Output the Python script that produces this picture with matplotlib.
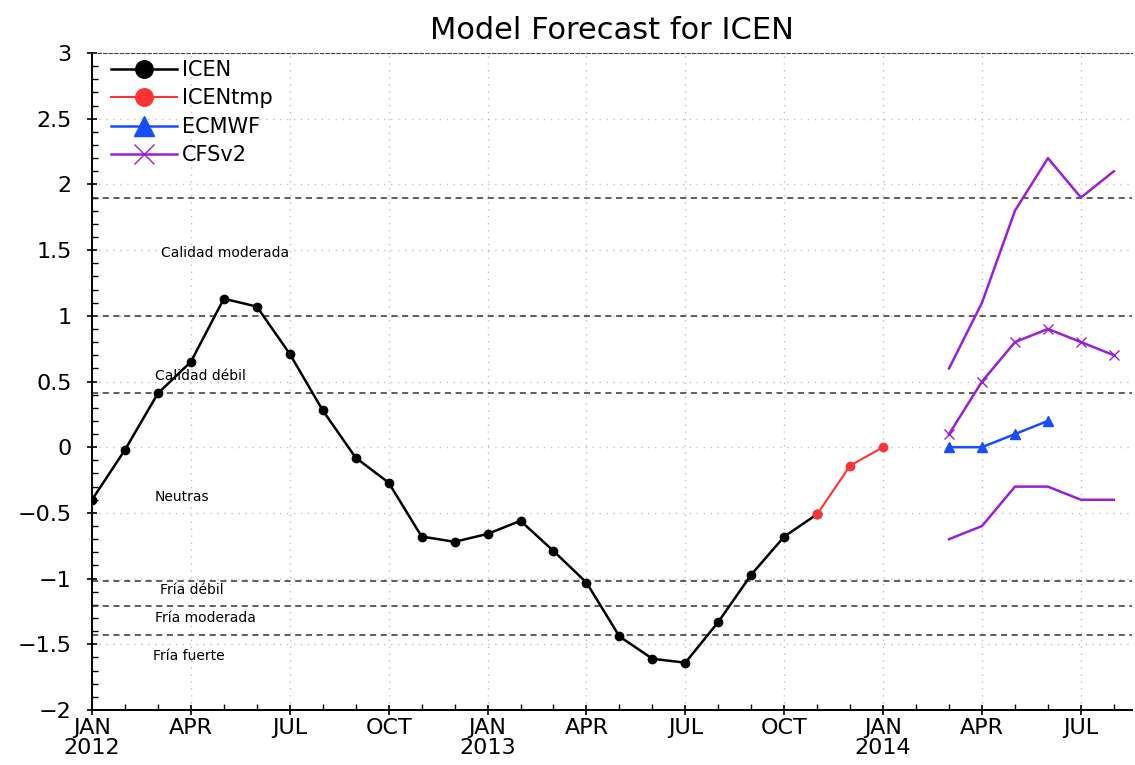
import matplotlib
matplotlib.use("Agg")
import matplotlib.pyplot as plt
from matplotlib.ticker import MultipleLocator

plt.rcParams['font.family'] = ['DejaVu Sans']

# months counted from JAN 2012 = 0
icen_x = list(range(0, 23))
icen_y = [-0.40, -0.02, 0.41, 0.65, 1.13, 1.07, 0.71, 0.28, -0.08, -0.27,
          -0.68, -0.72, -0.66, -0.56, -0.79, -1.03, -1.44, -1.61, -1.64,
          -1.33, -0.97, -0.68, -0.51]

tmp_x = [22, 23, 24]
tmp_y = [-0.51, -0.14, 0.0]

ec_x = [26, 27, 28, 29]
ec_y = [0.0, 0.0, 0.1, 0.2]

cfs_x = [26, 27, 28, 29, 30, 31]
cfs_mean = [0.1, 0.5, 0.8, 0.9, 0.8, 0.7]
cfs_upper = [0.6, 1.1, 1.8, 2.2, 1.9, 2.1]
cfs_lower = [-0.7, -0.6, -0.3, -0.3, -0.4, -0.4]

thresholds = [1.9, 1.0, 0.41, -1.02, -1.21, -1.43]
regions = ["Calidad moderada", "Calidad débil", "Neutras",
           "Fría débil", "Fría moderada", "Fría fuerte"]
region_y = [1.48, 0.54, -0.38, -1.09, -1.30, -1.59]
region_x = [2.1, 1.9, 1.9, 2.05, 1.9, 1.85]

tick_pos = list(range(0, 32, 3))
tick_lab = ["JAN\n2012", "APR", "JUL", "OCT", "JAN\n2013", "APR", "JUL",
            "OCT", "JAN\n2014", "APR", "JUL"]

purple = "#9b1fd6"

fig = plt.figure(figsize=(11.35, 7.65), dpi=100)
ax = fig.add_axes([92 / 1135, 1 - 710 / 765, 1040 / 1135, 657 / 765])

ax.grid(True, which='major', linestyle=(0, (1, 4)), color='#c0c0c0', linewidth=1)
for t in thresholds:
    ax.axhline(t, color='#333333', linestyle=(0, (4, 3)), linewidth=1.1, zorder=2)

ax.plot(icen_x, icen_y, color='black', marker='o', ms=6, lw=1.8, label='ICEN', zorder=5)
ax.plot(tmp_x, tmp_y, color='#ff3333', marker='o', ms=6, lw=1.5, label='ICENtmp', zorder=5)
ax.plot(ec_x, ec_y, color='#1a4cff', marker='^', ms=7, lw=1.8, label='ECMWF', zorder=5)
ax.plot(cfs_x, cfs_mean, color=purple, marker='x', ms=7, lw=1.8, label='CFSv2', zorder=5)
ax.plot(cfs_x, cfs_upper, color=purple, lw=1.8, zorder=5)
ax.plot(cfs_x, cfs_lower, color=purple, lw=1.8, zorder=5)

for name, xx, yy in zip(regions, region_x, region_y):
    ax.text(xx, yy, name, fontsize=10, va='center', ha='left')

ax.set_xlim(0, 31.55)
ax.set_ylim(-2, 3)
ax.set_xticks(tick_pos)
ax.set_xticklabels(tick_lab, fontsize=16, linespacing=1.0)
ax.set_yticks([-2, -1.5, -1, -0.5, 0, 0.5, 1, 1.5, 2, 2.5, 3])
ax.set_yticklabels(["\u22122", "\u22121.5", "\u22121", "\u22120.5", "0", "0.5",
                    "1", "1.5", "2", "2.5", "3"], fontsize=16)
ax.xaxis.set_minor_locator(MultipleLocator(1))
ax.yaxis.set_minor_locator(MultipleLocator(0.1))
ax.tick_params(which='major', length=7, width=1.2, direction='inout')
ax.tick_params(axis='x', which='major', pad=2)
ax.tick_params(axis='y', which='major', pad=11)
ax.tick_params(which='minor', length=4, width=1, direction='in')
ax.spines['right'].set_visible(False)
ax.spines['top'].set_linestyle((0, (3, 2)))
ax.spines['top'].set_color('#444444')
for s in ['left', 'bottom']:
    ax.spines[s].set_linewidth(1.4)

ax.set_title("Model Forecast for ICEN", fontsize=22, pad=10)

leg = ax.legend(loc='upper left', frameon=False, fontsize=15, handlelength=3.2,
                markerscale=2.1, borderaxespad=0.1, labelspacing=0.4,
                handletextpad=0.2, bbox_to_anchor=(0.008, 1.005))

fig.savefig("out.png", dpi=100)
